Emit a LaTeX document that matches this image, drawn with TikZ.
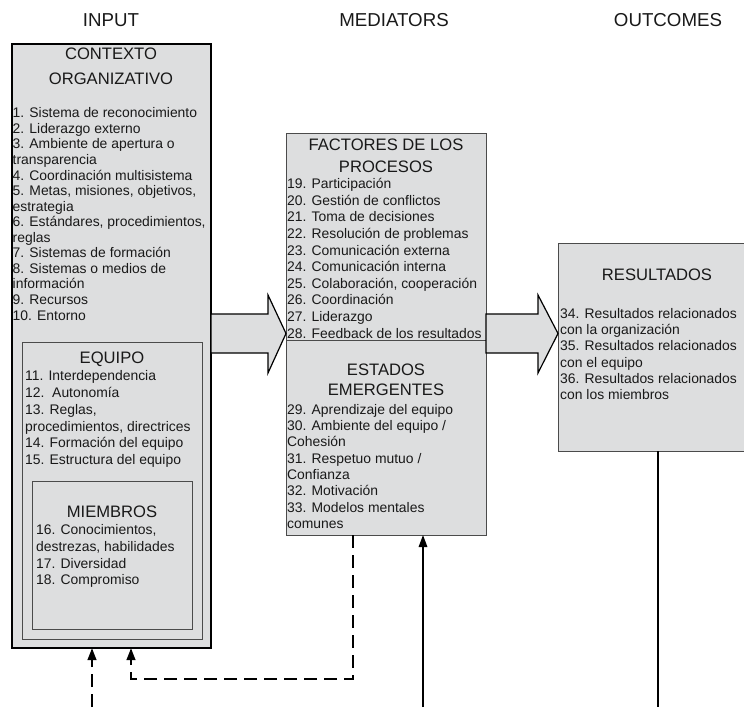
\documentclass[tikz,border=0pt]{standalone}
\usepackage{fontspec}
\setmainfont{Liberation Sans}
\usetikzlibrary{arrows.meta}
\definecolor{boxgray}{RGB}{221,222,223}
\definecolor{edgegray}{RGB}{75,75,75}
\definecolor{inkgray}{RGB}{25,25,25}
\newcommand{\itemsize}[1]{\fontsize{13.9}{#1}\selectfont}
\newcommand{\titlesize}[1]{\fontsize{16.6}{#1}\selectfont}
\tikzset{
  panel/.style={draw=edgegray, fill=boxgray, line width=0.9pt, inner sep=0pt, outer sep=0pt, anchor=north west},
  items/.style={anchor=north west, align=left, inner sep=0pt, text=inkgray},
  boxtitle/.style={anchor=north, align=center, inner sep=0pt, text=inkgray},
  colhead/.style={inner sep=0pt, text=inkgray, font=\fontsize{18.7}{22}\selectfont},
  bigarrow/.style={draw=black, fill=boxgray, line width=1.2pt, line join=miter},
  feedback/.style={line width=2.4pt, dash pattern=on 13pt off 7pt, line join=miter, -{Triangle[length=12pt,width=8.5pt]}},
  influence/.style={line width=1.6pt, -{Triangle[length=12pt,width=8.5pt]}},
}
\begin{document}
\begin{tikzpicture}[x=1pt,y=-1pt]
        \useasboundingbox (0,0) rectangle (744,707);
        %column heads
        \node[colhead] (hinput) at (111,20) {INPUT};
        \node[colhead] (hmed) at (394,20) {MEDIATORS};
        \node[colhead] (hout) at (668,20) {OUTCOMES};
        %input boxes
        \node[panel, draw=black, line width=1.2pt, minimum width=199pt, minimum height=604pt] (ctx) at (12,44) {};
        \node[panel, minimum width=180pt, minimum height=297pt] (team) at (22,342) {};
        \node[panel, minimum width=160pt, minimum height=148pt] (memb) at (32,481) {};
        %mediators and outcomes
        \node[panel, minimum width=200pt, minimum height=402pt] (mid) at (286,133) {};
        \node[panel, minimum width=190pt, minimum height=208pt] (res) at (558,243) {};
        \coordinate (split) at (0,340);
        \draw[edgegray, line width=0.9pt] (mid.west |- split) -- (mid.east |- split);
        %texts
        \node[boxtitle, font=\titlesize{25.5}] (ctxtitle) at (111,47.5) {CONTEXTO\\ORGANIZATIVO};
        \node[items, font=\itemsize{15.56}] (ctxitems) at (12.5,107.5) {1. Sistema de reconocimiento\\2. Liderazgo externo\\3. Ambiente de apertura o\\transparencia\\4. Coordinación multisistema\\5. Metas, misiones, objetivos,\\estrategia\\6. Estándares, procedimientos,\\reglas\\7. Sistemas de formación\\8. Sistemas o medios de\\información\\9. Recursos\\10. Entorno};
        \node[boxtitle, font=\titlesize{20}] (teamtitle) at (112,352) {EQUIPO};
        \node[items, font=\itemsize{16.8}] (teamitems) at (25,370.5) {11. Interdependencia\\12.\ \ Autonomía\\13. Reglas,\\procedimientos, directrices\\14. Formación del equipo\\15. Estructura del equipo};
        \node[boxtitle, font=\titlesize{20}] (membtitle) at (112,506) {MIEMBROS};
        \node[items, font=\itemsize{16.7}] (membitems) at (36,524.5) {16. Conocimientos,\\destrezas, habilidades\\17. Diversidad\\18. Compromiso};
        \node[boxtitle, font=\titlesize{21.7}] (proctitle) at (386,139) {FACTORES DE LOS\\PROCESOS};
        \node[items, font=\itemsize{16.65}] (procitems) at (287,178) {19. Participación\\20. Gestión de conflictos\\21. Toma de decisiones\\22. Resolución de problemas\\23. Comunicación externa\\24. Comunicación interna\\25. Colaboración, cooperación\\26. Coordinación\\27. Liderazgo\\28. Feedback de los resultados};
        \node[boxtitle, font=\titlesize{19.3}] (esttitle) at (386,364) {ESTADOS\\EMERGENTES};
        \node[items, font=\itemsize{16.3}] (estitems) at (287,404) {29. Aprendizaje del equipo\\30. Ambiente del equipo /\\Cohesión\\31. Respetuo mutuo /\\Confianza\\32. Motivación\\33. Modelos mentales\\comunes};
        \node[boxtitle, font=\titlesize{20}] (restitle) at (657,269) {RESULTADOS};
        \node[items, font=\itemsize{16.3}] (resitems) at (560,308) {34. Resultados relacionados\\con la organización\\35. Resultados relacionados\\con el equipo\\36. Resultados relacionados\\con los miembros};
        %big arrows
        \draw[bigarrow] (211,314) -- (268,314) -- (268,295) -- (mid.west |- 0,333.5) -- (268,373) -- (268,353) -- (211,353) -- cycle;
        \draw[bigarrow] (486,314) -- (538,314) -- (538,295) -- (res.west |- 0,333.5) -- (538,373) -- (538,353) -- (486,353) -- cycle;
        %feedback loops
        \coordinate (inA) at (92,707);
        \coordinate (inB) at (131,679);
        \coordinate (turn) at (353,679);
        \coordinate (medin) at (423,707);
        \coordinate (outend) at (658,707);
        \draw[feedback] (inA) -- (inA |- ctx.south);
        \draw[feedback] (turn |- mid.south) -- (turn) -- (inB) -- (inB |- ctx.south);
        \draw[influence] (medin) -- (medin |- mid.south);
        \draw[line width=1.5pt] (outend |- res.south) -- (outend);
        \end{tikzpicture}
\end{document}
